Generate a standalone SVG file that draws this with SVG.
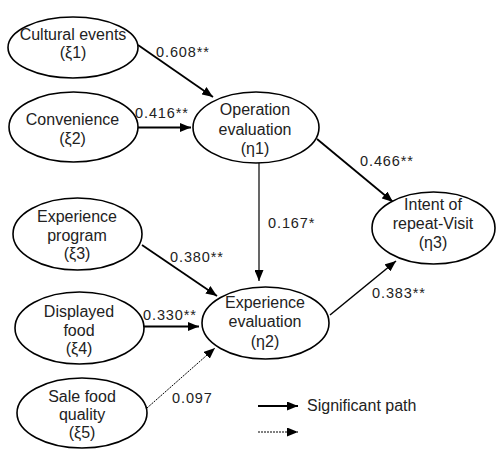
<svg xmlns="http://www.w3.org/2000/svg" width="497" height="449" viewBox="0 0 497 449">
<style>
.node ellipse{fill:#fff;stroke:#000;stroke-width:1.6}
.node text{font-family:"Liberation Sans",Arial,sans-serif;font-size:16px;fill:#222;text-anchor:middle}
.lbl{font-family:"Liberation Sans",Arial,sans-serif;font-size:14.5px;fill:#222;letter-spacing:0.9px}
.sig{stroke:#000;stroke-width:1.8;fill:none}
.ns{stroke:#000;stroke-width:1;fill:none;stroke-dasharray:2 1}
</style>
<defs>
<marker id="ah" markerUnits="userSpaceOnUse" markerWidth="11" markerHeight="9" refX="11" refY="4.5" orient="auto">
<path d="M0,0 L11,4.5 L0,9 z" fill="#000"/>
</marker>
</defs>
<rect width="497" height="449" fill="#fff"/>
<g id="connectors">
<line class="sig" x1="138" y1="45" x2="213" y2="97" marker-end="url(#ah)"/>
<line class="sig" x1="138" y1="127.5" x2="191" y2="127.5" marker-end="url(#ah)"/>
<line class="sig" x1="317" y1="139" x2="393" y2="202" marker-end="url(#ah)"/>
<line class="sig" style="stroke-width:1.2" x1="259" y1="163" x2="259" y2="281" marker-end="url(#ah)"/>
<line class="sig" x1="142" y1="245" x2="217" y2="296" marker-end="url(#ah)"/>
<line class="sig" x1="144" y1="326.5" x2="199" y2="326.5" marker-end="url(#ah)"/>
<line class="ns" x1="147" y1="408" x2="215" y2="348" marker-end="url(#ah)"/>
<line class="sig" style="stroke-width:1.5" x1="330" y1="315" x2="396" y2="261" marker-end="url(#ah)"/>
<text class="lbl" x="156" y="57">0.608**</text>
<text class="lbl" x="135" y="118">0.416**</text>
<text class="lbl" x="360" y="166">0.466**</text>
<text class="lbl" x="268" y="228">0.167*</text>
<text class="lbl" x="170" y="262">0.380**</text>
<text class="lbl" x="143" y="320">0.330**</text>
<text class="lbl" x="172" y="403">0.097</text>
<text class="lbl" x="372" y="298">0.383**</text>
</g>
<g id="legend">
<line class="sig" x1="258" y1="406" x2="298" y2="406" marker-end="url(#ah)"/>
<text x="307" y="411" style="font-family:'Liberation Sans',Arial,sans-serif;font-size:16px;fill:#222">Significant path</text>
<line class="ns" x1="258" y1="432" x2="298" y2="432" marker-end="url(#ah)"/>
</g>
<g id="n-cultural" class="node">
<ellipse cx="73" cy="47.5" rx="65" ry="30.5"/>
<text x="73" y="40">Cultural events</text>
<text x="73" y="58">(ξ1)</text>
</g>
<g id="n-convenience" class="node">
<ellipse cx="73.5" cy="127" rx="64.5" ry="35"/>
<text x="72.5" y="125">Convenience</text>
<text x="72.5" y="144">(ξ2)</text>
</g>
<g id="n-operation" class="node">
<ellipse cx="256" cy="127.5" rx="63" ry="35.5"/>
<text x="255" y="115">Operation</text>
<text x="255" y="135">evaluation</text>
<text x="255" y="154">(η1)</text>
</g>
<g id="n-intent" class="node">
<ellipse cx="433.5" cy="228" rx="61.5" ry="36"/>
<text x="433" y="210">Intent of</text>
<text x="433" y="229">repeat-Visit</text>
<text x="433" y="248">(η3)</text>
</g>
<g id="n-program" class="node">
<ellipse cx="77.5" cy="234" rx="64.5" ry="36"/>
<text x="77" y="222">Experience</text>
<text x="77" y="241">program</text>
<text x="77" y="259">(ξ3)</text>
</g>
<g id="n-expeval" class="node">
<ellipse cx="265.5" cy="323" rx="63.5" ry="36"/>
<text x="265" y="308">Experience</text>
<text x="265" y="327">evaluation</text>
<text x="265" y="347">(η2)</text>
</g>
<g id="n-displayed" class="node">
<ellipse cx="79.5" cy="328" rx="64.5" ry="36"/>
<text x="79" y="317">Displayed</text>
<text x="79" y="336">food</text>
<text x="79" y="354">(ξ4)</text>
</g>
<g id="n-sale" class="node">
<ellipse cx="82" cy="413" rx="65" ry="35"/>
<text x="82" y="402">Sale food</text>
<text x="82" y="420">quality</text>
<text x="82" y="438">(ξ5)</text>
</g>
</svg>
